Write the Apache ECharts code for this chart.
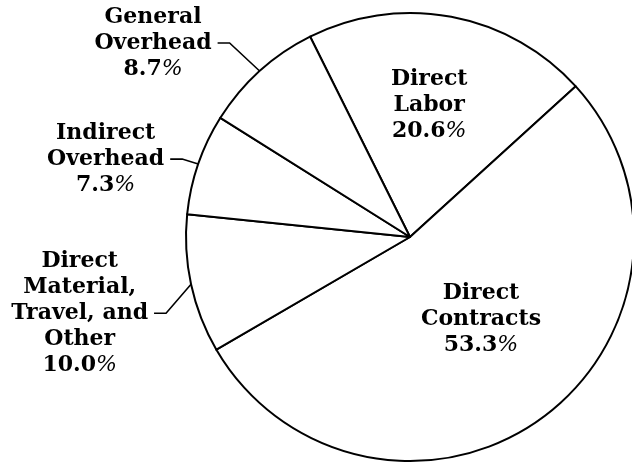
<!DOCTYPE html>
<html>
<head>
<meta charset="utf-8">
<script src="https://cdn.jsdelivr.net/npm/echarts@6/dist/echarts.min.js"></script>
<style>
  html, body { margin: 0; padding: 0; background: #fff; }
  #chart { width: 632px; height: 464px; }
</style>
</head>
<body>
<div id="chart"></div>
<script>
// Cost categories, listed clockwise from the top of the pie
const categories = [
  'Direct\nLabor',
  'Direct\nContracts',
  'Direct\nMaterial,\nTravel, and\nOther',
  'Indirect\nOverhead',
  'General\nOverhead'
];
// Share of total cost, percent
const shares = [20.6, 53.3, 10.0, 7.3, 8.7];
// Slices whose label sits inside the wedge
const insideLabels = ['Direct\nLabor', 'Direct\nContracts'];

const FONT = 'DejaVu Serif';
const FS = 22;
const LH = 26;
const rich = {
  n: { fontFamily: FONT, fontWeight: 'bold', fontSize: FS, lineHeight: LH, color: '#000', align: 'center' },
  p: { fontFamily: FONT, fontStyle: 'italic', fontWeight: 'normal', fontSize: FS, lineHeight: LH, color: '#000', align: 'center' }
};

function labelText(name, value) {
  const lines = name.split('\n').map(function (l) { return '{n|' + l + '}'; });
  lines.push('{n|' + value.toFixed(1) + '}{p|%}');
  return lines.join('\n');
}

// Label placement tweaks, by category:
// inside labels get a plain shift, outside labels get the offset of the
// leader line's elbow from its anchor on the rim.
const labelTweak = {
  'Direct\nLabor': [-2, -19],
  'Direct\nContracts': [3, -10],
  'Direct\nMaterial,\nTravel, and\nOther': [-25, 29],
  'Indirect\nOverhead': [-16, -5],
  'General\nOverhead': [-30, -28]
};
const LEADER_TAIL = 12;  // horizontal run of a leader line
const LEADER_GAP = 6;    // space between leader line and text

const data = categories.map(function (name, i) {
  const inside = insideLabels.indexOf(name) >= 0;
  return {
    name: name,
    value: shares[i],
    label: { position: inside ? 'inside' : 'outside' },
    labelLine: { show: !inside }
  };
});

const chart = echarts.init(document.getElementById('chart'), null, { renderer: 'canvas' });
chart.setOption({
  backgroundColor: '#fff',
  animation: false,
  series: [{
    type: 'pie',
    center: [410, 237],
    radius: 224,
    startAngle: 116.5,
    clockwise: true,
    avoidLabelOverlap: false,
    data: data,
    itemStyle: { color: '#fff', borderColor: '#000', borderWidth: 2 },
    emphasis: { disabled: true },
    label: {
      show: true,
      formatter: function (p) { return labelText(p.name, p.value); },
      rich: rich
    },
    labelLine: {
      show: true,
      length: 20,
      length2: LEADER_TAIL,
      lineStyle: { color: '#000', width: 1.6 }
    },
    labelLayout: function (p) {
      const name = categories[p.dataIndex];
      const t = labelTweak[name] || [0, 0];
      if (insideLabels.indexOf(name) >= 0 || !p.labelLinePoints) {
        return { dx: t[0], dy: t[1] };
      }
      const anchor = p.labelLinePoints[0];
      const elbow = [anchor[0] + t[0], anchor[1] + t[1]];
      const end = [elbow[0] - LEADER_TAIL, elbow[1]];
      const r = p.labelRect;
      return {
        dx: end[0] - LEADER_GAP - (r.x + r.width),
        dy: elbow[1] - (r.y + r.height / 2),
        labelLinePoints: [anchor, elbow, end]
      };
    }
  }]
});
</script>
</body>
</html>
